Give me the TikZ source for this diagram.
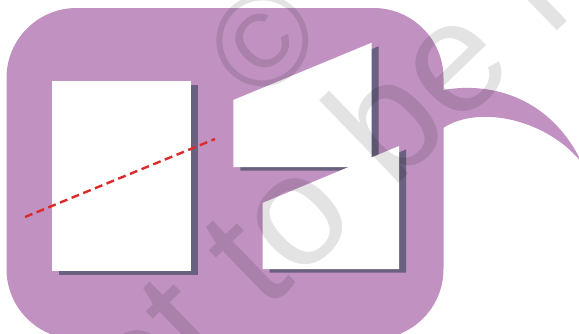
\documentclass[tikz,border=0pt]{standalone}
\usepackage{fontspec}
\newfontfamily\wmfont{Liberation Sans}
\definecolor{bubble}{HTML}{C091C1}
\definecolor{shade}{HTML}{6A6080}
\definecolor{dashred}{HTML}{DC2A2A}
\tikzset{
  bubblefill/.style={fill=bubble, draw=none},
  shadowfill/.style={fill=shade, draw=none},
  paperfill/.style={fill=white, draw=none},
  cutline/.style={draw=dashred, line width=2.4pt, dash pattern=on 8pt off 4.6pt},
  wm/.style={text=black, text opacity=0.11, inner sep=0pt, font=\wmfont\fontsize{158}{158}\selectfont}
}
\begin{document}
\begin{tikzpicture}[x=1pt, y=-1pt]
\useasboundingbox (0,0) rectangle (579,333);
% speech bubble
\fill[bubblefill, rounded corners=70pt] (6.5,8) rectangle (443.5,339);
\fill[bubblefill] (440,90) -- (443,90) .. controls (495,81) and (552,100) .. (582,163)
   .. controls (548,120) and (480,104) .. (443,128) -- (440,128) -- cycle;
% left sheet
\fill[shadowfill] (59,84.5) rectangle (198,274.5);
\fill[paperfill] (52,81) rectangle (191,271);
% upper piece
\fill[shadowfill] (240.3,103.5) -- (378.7,46.2) -- (378.7,170.5) -- (240.3,170.5) -- cycle;
\fill[paperfill] (233.3,100) -- (371.7,42.7) -- (371.7,167) -- (233.3,167) -- cycle;
% lower piece
\fill[shadowfill] (269.5,206.5) -- (406,149.5) -- (406,272.5) -- (269.5,272.5) -- cycle;
\fill[paperfill] (262.5,203) -- (399,146) -- (399,269) -- (262.5,269) -- cycle;
% dashed cut line
\coordinate (cutA) at (25,217);
\coordinate (cutB) at (215,139);
\draw[cutline] (cutA) -- (cutB);
% watermark
\node[wm, rotate=44, anchor=base west] (wmline) at (76,496) {not to be republished};
\node[wm, rotate=44, font=\wmfont\fontsize{130}{130}\selectfont] (wmcopy) at (263,41) {©};
\end{tikzpicture}
\end{document}
